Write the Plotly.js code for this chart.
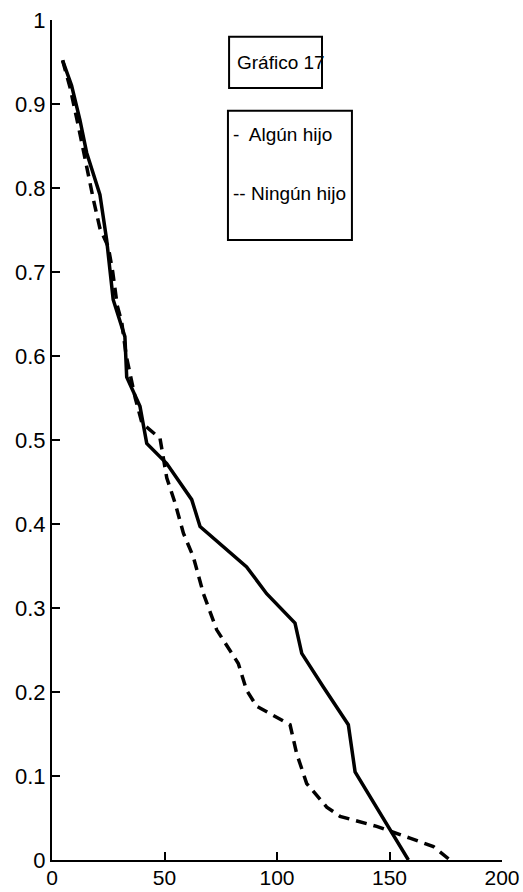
<!DOCTYPE html>
<html>
<head>
<meta charset="utf-8">
<script src="https://cdn.plot.ly/plotly-3.0.1.min.js"></script>
<style>html,body{margin:0;padding:0;background:#fff;}#chart{width:523px;height:892px;}</style>
</head>
<body>
<div id="chart"></div>
<script>
// Algún hijo (solid)
const algunX = [4.7, 8.7, 12.4, 15.4, 21.3, 24.3, 27.2, 32.4, 33.2, 39.1, 42.1, 51, 62.1, 65.8, 86.5, 95.4, 108, 111, 120.6, 131.7, 134.7, 150.2, 158.4];
const algunY = [0.952, 0.922, 0.881, 0.842, 0.792, 0.738, 0.667, 0.623, 0.575, 0.54, 0.496, 0.472, 0.429, 0.397, 0.349, 0.317, 0.282, 0.246, 0.206, 0.161, 0.105, 0.036, 0.0];
// Ningún hijo (dashed)
const ningunX = [4.7, 8.0, 12.0, 15.0, 18.5, 21.3, 25.0, 27.0, 29.0, 31.0, 33.0, 37.0, 40.0, 48.0, 51.0, 54.7, 58.4, 62.8, 67.3, 73.2, 82.8, 86.5, 91.0, 105.8, 108.7, 113.2, 122.1, 128.0, 144.3, 159.1, 169.5, 176.9];
const ningunY = [0.952, 0.92, 0.87, 0.83, 0.785, 0.752, 0.73, 0.70, 0.66, 0.64, 0.60, 0.55, 0.52, 0.502, 0.455, 0.425, 0.389, 0.361, 0.317, 0.274, 0.234, 0.202, 0.183, 0.161, 0.127, 0.091, 0.063, 0.052, 0.04, 0.026, 0.016, 0.0];

const xTicks = [0, 50, 100, 150, 200];
const yTicks = [0, 0.1, 0.2, 0.3, 0.4, 0.5, 0.6, 0.7, 0.8, 0.9, 1];
const yTickText = ["0", "0.1", "0.2", "0.3", "0.4", "0.5", "0.6", "0.7", "0.8", "0.9", "1"];

const titleText = "Gráfico 17";
const legend1 = "-  Algún hijo";
const legend2 = "-- Ningún hijo";

const traces = [
  {x: algunX, y: algunY, mode: 'lines', line: {color: '#000', width: 3.5}, name: 'Algún hijo', hoverinfo: 'skip'},
  {x: ningunX, y: ningunY, mode: 'lines', line: {color: '#000', width: 3.5, dash: '11px,7px'}, name: 'Ningún hijo', hoverinfo: 'skip'}
];

const font = {family: 'Liberation Sans, Arial, sans-serif', color: '#000'};

const layout = {
  width: 523, height: 892,
  margin: {l: 52, r: 21, t: 20, b: 32},
  paper_bgcolor: '#fff', plot_bgcolor: '#fff',
  showlegend: false,
  font: Object.assign({size: 21}, font),
  xaxis: {
    range: [0, 200], tickvals: xTicks, ticktext: xTicks.map(String),
    ticks: 'inside', ticklen: 8, tickwidth: 2, tickcolor: '#000',
    showline: true, linewidth: 2, linecolor: '#000',
    showgrid: false, zeroline: false, fixedrange: true,
    ticklabelstandoff: -2,
    tickfont: Object.assign({size: 21}, font)
  },
  yaxis: {
    range: [0, 1], tickvals: yTicks, ticktext: yTickText,
    ticks: 'inside', ticklen: 8, tickwidth: 2, tickcolor: '#000',
    showline: true, linewidth: 2, linecolor: '#000',
    showgrid: false, zeroline: false, fixedrange: true,
    tickfont: Object.assign({size: 22}, font)
  },
  shapes: [
    {type: 'rect', xref: 'x', yref: 'y', x0: 78.7, x1: 120, y0: 0.919, y1: 0.980, line: {color: '#000', width: 2}},
    {type: 'rect', xref: 'x', yref: 'y', x0: 78.2, x1: 133.3, y0: 0.738, y1: 0.892, line: {color: '#000', width: 2}}
  ],
  annotations: [
    {text: titleText, x: 81.3, y: 0.950, xref: 'x', yref: 'y', xanchor: 'left', yanchor: 'middle', showarrow: false, font: Object.assign({size: 19}, font)},
    {text: legend1, x: 79.6, y: 0.864, xref: 'x', yref: 'y', xanchor: 'left', yanchor: 'middle', showarrow: false, font: Object.assign({size: 19}, font)},
    {text: legend2, x: 79.6, y: 0.793, xref: 'x', yref: 'y', xanchor: 'left', yanchor: 'middle', showarrow: false, font: Object.assign({size: 19}, font)}
  ]
};

Plotly.newPlot('chart', traces, layout, {displayModeBar: false, staticPlot: true});
</script>
</body>
</html>
